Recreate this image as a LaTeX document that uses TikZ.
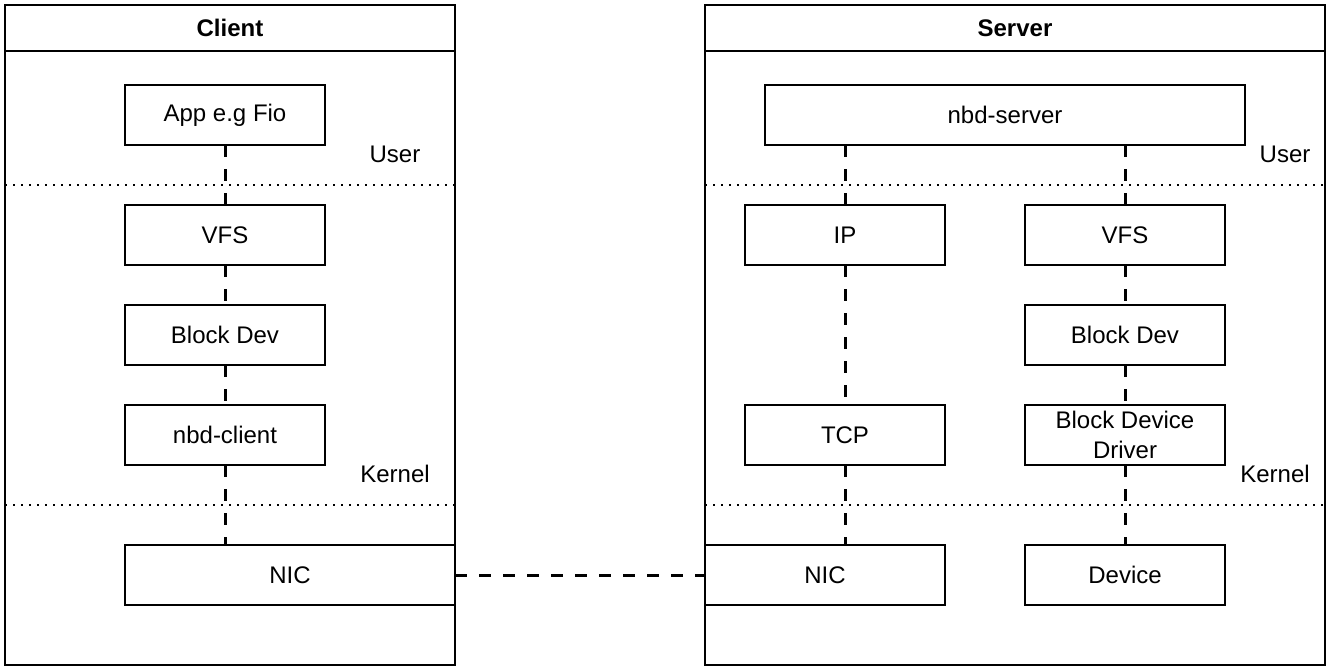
\documentclass[tikz,border=0pt]{standalone}
\usepackage{fontspec}
\setmainfont{Liberation Sans}
\begin{document}
\begin{tikzpicture}[x=0.5pt,y=-0.5pt,
  every node/.style={font=\fontsize{12}{15}\selectfont},
  frame/.style={draw,line width=1pt,inner sep=0pt,outer sep=0pt},
  box/.style={draw,line width=1pt,fill=white,inner sep=0pt,outer sep=0pt,minimum height=30pt,align=center},
  lbl/.style={inner sep=0pt},
  conn/.style={line width=1.5pt,dash pattern=on 6pt off 6pt},
  sep/.style={line width=1pt,dash pattern=on 1pt off 3pt}]
\useasboundingbox (0,0) rectangle (1340,670);
% frames
\node[frame,minimum width=225pt,minimum height=330pt] (client) at (230,335) {};
\node[frame,minimum width=225pt,minimum height=23pt,font=\fontsize{12}{15}\selectfont\bfseries] (chead) at (230,28) {Client};
\node[frame,minimum width=310pt,minimum height=330pt] (server) at (1015,335) {};
\node[frame,minimum width=310pt,minimum height=23pt,font=\fontsize{12}{15}\selectfont\bfseries] (shead) at (1015,28) {Server};
% separators
\coordinate (cu1) at (5,185); \coordinate (cu2) at (455,185);
\coordinate (ck1) at (5,505); \coordinate (ck2) at (455,505);
\coordinate (su1) at (705,185); \coordinate (su2) at (1325,185);
\coordinate (sk1) at (705,505); \coordinate (sk2) at (1325,505);
\draw[sep] (cu1) -- (cu2);
\draw[sep] (ck1) -- (ck2);
\draw[sep] (su1) -- (su2);
\draw[sep] (sk1) -- (sk2);
% labels
\node[lbl] (cuser) at (395,154) {User};
\node[lbl] (ckern) at (395,474) {Kernel};
\node[lbl] (suser) at (1285,154) {User};
\node[lbl] (skern) at (1275,474) {Kernel};
% client boxes
\node[box,minimum width=100pt] (app) at (225,115) {App e.g Fio};
\node[box,minimum width=100pt] (cvfs) at (225,235) {VFS};
\node[box,minimum width=100pt] (cbd) at (225,335) {Block Dev};
\node[box,minimum width=100pt] (nbdc) at (225,435) {nbd-client};
\node[box,minimum width=165pt] (cnic) at (290,575) {NIC};
% server boxes
\node[box,minimum width=240pt] (nbds) at (1005,115) {nbd-server};
\node[box,minimum width=100pt] (ip) at (845,235) {IP};
\node[box,minimum width=100pt] (svfs) at (1125,235) {VFS};
\node[box,minimum width=100pt] (sbd) at (1125,335) {Block Dev};
\node[box,minimum width=100pt] (tcp) at (845,435) {TCP};
\node[box,minimum width=100pt] (bdd) at (1125,435) {Block Device\\Driver};
\node[box,minimum width=120pt] (snic) at (825,575) {NIC};
\node[box,minimum width=100pt] (dev) at (1125,575) {Device};
% connectors
\draw[conn] (app) -- (cvfs);
\draw[conn] (cvfs) -- (cbd);
\draw[conn] (cbd) -- (nbdc);
\draw[conn] (nbdc.south) -- (nbdc.south |- cnic.north);
\draw[conn] (ip.north |- nbds.south) -- (ip.north);
\draw[conn] (svfs.north |- nbds.south) -- (svfs.north);
\draw[conn] (ip) -- (tcp);
\draw[conn] (tcp.south) -- (tcp.south |- snic.north);
\draw[conn] (svfs) -- (sbd);
\draw[conn] (sbd) -- (bdd);
\draw[conn] (bdd) -- (dev);
\draw[conn] (cnic.east) -- (snic.west);
\end{tikzpicture}
\end{document}
